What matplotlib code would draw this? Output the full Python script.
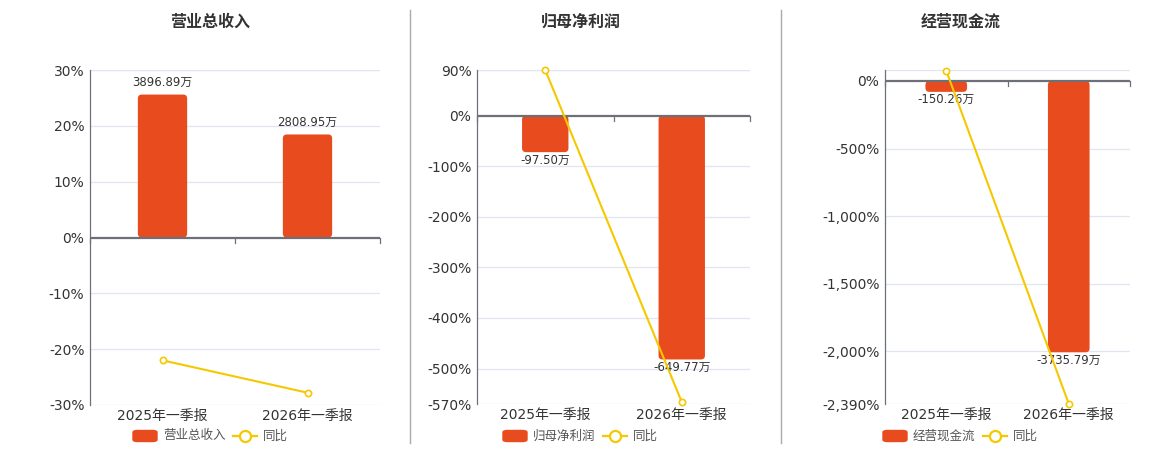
import matplotlib
matplotlib.use('Agg')
import matplotlib.pyplot as plt
from matplotlib.patches import FancyBboxPatch
from matplotlib.lines import Line2D
from matplotlib.ticker import FuncFormatter

plt.rcParams['font.family'] = ['DejaVu Sans', 'Noto Sans CJK SC']

# data
categories = ['2025年一季报', '2026年一季报']
titles = ['营业总收入', '归母净利润', '经营现金流']
revenue = [3896.89, 2808.95]
revenue_yoy = [-22.0, -27.8]
profit = [-97.50, -649.77]
profit_yoy = [90.0, -566.0]
cashflow = [-150.26, -3735.79]
cashflow_yoy = [76.0, -2388.0]

BAR = '#E84C1E'
LINE = '#F5C800'
AXIS = '#6E7079'
GRID = '#E0E6F1'
TXT = '#333333'

W, H = 1160, 450
fig = plt.figure(figsize=(W / 100, H / 100), dpi=100)


def box(l, t, r, b):
    return [l / W, 1 - b / H, (r - l) / W, (b - t) / H]


panels = [
    dict(title=titles[0], bars=revenue, yoy=revenue_yoy, box=(90, 70, 380, 405),
         ylim=(-30, 30), ticks=[30, 20, 10, 0, -10, -20, -30], k=152.2,
         tx=210, leg=133),
    dict(title=titles[1], bars=profit, yoy=profit_yoy, box=(477, 70, 750, 404),
         ylim=(-570, 90), ticks=[90, 0, -100, -200, -300, -400, -500, -570], k=1.348,
         tx=581, leg=503),
    dict(title=titles[2], bars=cashflow, yoy=cashflow_yoy, box=(885, 70, 1130, 404),
         ylim=(-2390, 81), ticks=[0, -500, -1000, -1500, -2000, -2390], k=1.861,
         tx=961, leg=883),
]

for p in panels:
    l, t, r, b = p['box']
    lo, hi = p['ylim']
    ax = fig.add_axes(box(l, t, r, b))
    ax.set_xlim(-0.5, 1.5)
    ax.set_ylim(lo, hi)

    # grid lines
    for v in p['ticks'] + [hi]:
        if v != 0:
            ax.axhline(v, color=GRID, lw=0.9, zorder=0)
    ax.set_yticks(p['ticks'])
    ax.yaxis.set_major_formatter(FuncFormatter(lambda v, pos: f'{v:,.0f}%'))
    ax.tick_params(axis='y', length=0, labelsize=10, labelcolor=TXT, pad=4)
    ax.set_xticks([0, 1], categories)
    ax.tick_params(axis='x', length=0, labelsize=10, labelcolor=TXT, pad=3)
    for s in ['top', 'right', 'bottom']:
        ax.spines[s].set_visible(False)
    ax.spines['left'].set_color(AXIS)
    ax.spines['left'].set_linewidth(0.9)

    # bars on their own hidden scale, zero aligned
    ax2 = ax.twinx()
    ax2.set_xlim(-0.5, 1.5)
    ax2.set_ylim(lo * p['k'], hi * p['k'])
    bars = ax2.bar([0, 1], p['bars'], width=0.34, color=BAR, zorder=2)
    # rounded corners
    xpp = 2.0 / (r - l)
    ypp = (hi - lo) * p['k'] / (b - t)
    for rect in bars.patches:
        rect.set_visible(False)
        x0, y0 = rect.get_x(), rect.get_y()
        w, h = rect.get_width(), rect.get_height()
        if h < 0:
            y0, h = y0 + h, -h
        rad = min(4 * xpp, h / ypp * xpp / 2)
        ax2.add_patch(FancyBboxPatch((x0, y0), w, h,
                                     boxstyle=f'round,pad=0,rounding_size={rad}',
                                     mutation_aspect=ypp / xpp, color=BAR, lw=0, zorder=2))
    for i, v in enumerate(p['bars']):
        if v >= 0:
            ax2.annotate(f'{v:.2f}万', (i, v), xytext=(0, 4), textcoords='offset points',
                         ha='center', va='bottom', fontsize=8.5, color=TXT)
        else:
            ax2.annotate(f'{v:.2f}万', (i, v), xytext=(0, -1), textcoords='offset points',
                         ha='center', va='top', fontsize=8.5, color=TXT)
    ax2.axis('off')

    # yoy line on top
    ax3 = ax.twinx()
    ax3.set_xlim(-0.5, 1.5)
    ax3.set_ylim(lo, hi)
    ax3.axhline(0, color=AXIS, lw=1.6, zorder=1)
    zero = (0 - lo) / (hi - lo)
    tick = 5 / (b - t)
    for x in [-0.5, 0.5, 1.5]:
        ax3.plot([x, x], [zero, zero - tick], color=AXIS, lw=0.9,
                 transform=ax3.get_xaxis_transform(), clip_on=False)
    ax3.plot([0, 1], p['yoy'], color=LINE, lw=1.5, marker='o', markersize=4.5,
             markerfacecolor='white', markeredgecolor=LINE, markeredgewidth=1.2,
             clip_on=False, zorder=3)
    ax3.axis('off')

    fig.text(p['tx'] / W, 1 - 22 / H, p['title'], ha='center', va='center',
             fontsize=11.5, fontweight='bold', color=TXT)

    # legend
    lx = p['leg']
    ly = 1 - 436 / H
    fig.patches.append(FancyBboxPatch((lx / W, ly - 5.5 / H), 24 / W, 11 / H,
                                      boxstyle='round,pad=0,rounding_size=0.004',
                                      transform=fig.transFigure, color=BAR))
    fig.text((lx + 30) / W, ly, p['title'], ha='left', va='center', fontsize=9, color='#555555')
    fig.lines.append(Line2D([(lx + 100) / W, (lx + 124) / W], [ly, ly],
                            transform=fig.transFigure, color=LINE, lw=1.6))
    fig.lines.append(Line2D([(lx + 112) / W], [ly], transform=fig.transFigure,
                            marker='o', markersize=8, markerfacecolor='white',
                            markeredgecolor=LINE, markeredgewidth=1.6))
    fig.text((lx + 130) / W, ly, '同比', ha='left', va='center', fontsize=9, color='#555555')

# separators
for x in [410, 781]:
    fig.lines.append(Line2D([x / W, x / W], [1 - 10 / H, 1 - 443 / H],
                            transform=fig.transFigure, color='#AAAAAA', lw=1))

fig.savefig('out.png', dpi=100, facecolor='white')
